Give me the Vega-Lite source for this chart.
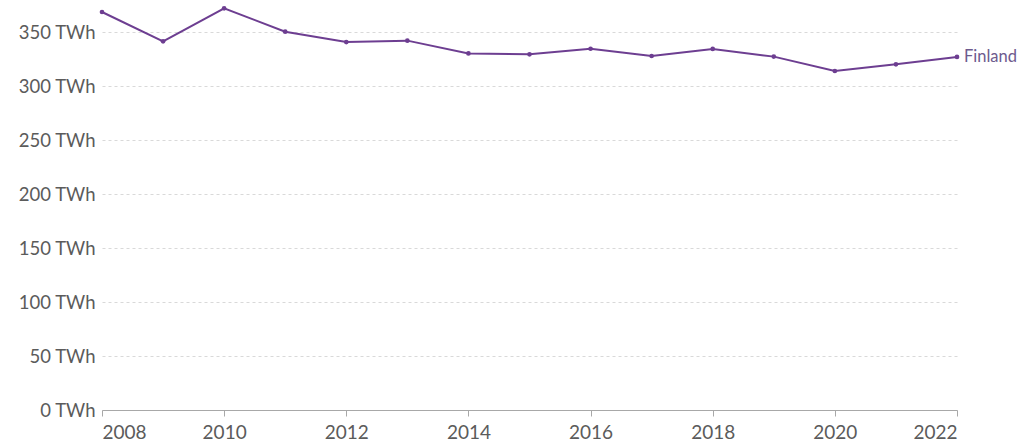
{
  "$schema": "https://vega.github.io/schema/vega-lite/v6.json",
  "autosize": {"type": "none"},
  "padding": {"left": 102, "top": 5, "right": 65, "bottom": 29},
  "width": 855,
  "height": 405,
  "background": "white",
  "data": {"values": [
    {"year": 2008, "twh": 368.5, "country": "Finland"},
    {"year": 2009, "twh": 341.4, "country": "Finland"},
    {"year": 2010, "twh": 371.9, "country": "Finland"},
    {"year": 2011, "twh": 350.3, "country": "Finland"},
    {"year": 2012, "twh": 340.7, "country": "Finland"},
    {"year": 2013, "twh": 342.0, "country": "Finland"},
    {"year": 2014, "twh": 330.2, "country": "Finland"},
    {"year": 2015, "twh": 329.3, "country": "Finland"},
    {"year": 2016, "twh": 334.5, "country": "Finland"},
    {"year": 2017, "twh": 327.8, "country": "Finland"},
    {"year": 2018, "twh": 334.3, "country": "Finland"},
    {"year": 2019, "twh": 327.2, "country": "Finland"},
    {"year": 2020, "twh": 313.9, "country": "Finland"},
    {"year": 2021, "twh": 320.1, "country": "Finland"},
    {"year": 2022, "twh": 326.9, "country": "Finland"}
  ]},
  "config": {
    "view": {"stroke": null},
    "font": "Lato"
  },
  "encoding": {
    "x": {
      "field": "year", "type": "quantitative",
      "scale": {"domain": [2008, 2022], "nice": false, "zero": false},
      "axis": {
        "values": [2008, 2010, 2012, 2014, 2016, 2018, 2020, 2022],
        "format": "d", "title": null, "grid": false,
        "domainColor": "#a8a8a8", "tickColor": "#a8a8a8", "tickSize": 6,
        "labelColor": "#5b5b5b", "labelFontSize": 19, "labelPadding": 7,
        "labelFont": "Lato", "labelFlush": true
      }
    },
    "y": {
      "field": "twh", "type": "quantitative",
      "scale": {"domain": [0, 375], "nice": false},
      "axis": {
        "values": [0, 50, 100, 150, 200, 250, 300, 350],
        "labelExpr": "datum.value + ' TWh'",
        "title": null, "domain": false, "ticks": false,
        "gridColor": "#d9d9d9", "gridDash": [3, 3], "gridWidth": 1,
        "labelColor": "#5b5b5b", "labelFontSize": 18.5, "labelPadding": 7,
        "labelFont": "Lato"
      }
    }
  },
  "layer": [
    {"mark": {"type": "line", "color": "#6d3e91", "strokeWidth": 2}},
    {"mark": {"type": "point", "filled": true, "color": "#6d3e91", "size": 22, "opacity": 1}},
    {
      "transform": [{"filter": "datum.year == 2022"}],
      "mark": {"type": "text", "align": "left", "baseline": "middle", "dx": 7, "fontSize": 16.5, "color": "#6d5a8e", "font": "Lato"},
      "encoding": {"text": {"field": "country"}}
    }
  ]
}
